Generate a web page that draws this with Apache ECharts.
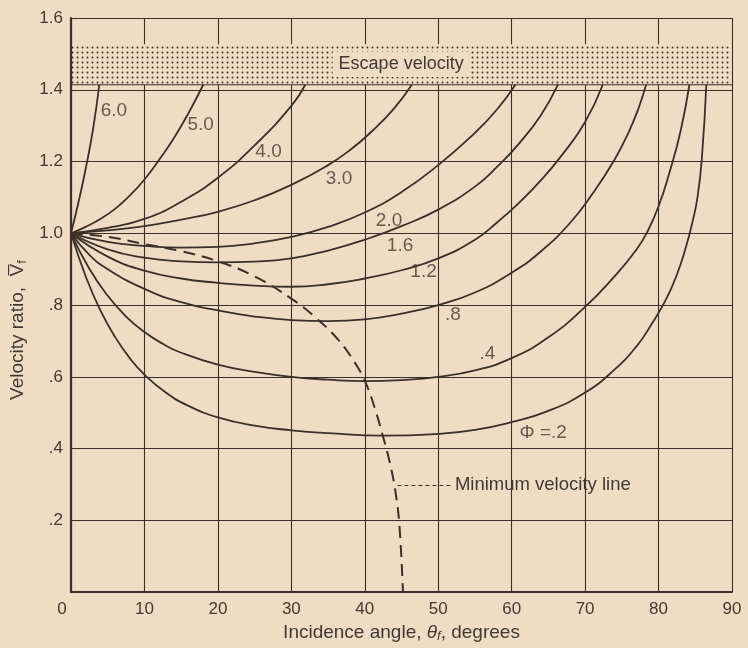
<!DOCTYPE html>
<html><head><meta charset="utf-8">
<script src="https://cdn.jsdelivr.net/npm/echarts@6/dist/echarts.min.js"></script>
<style>html,body{margin:0;padding:0;background:#f0dcc5;} #c{width:748px;height:648px;}</style>
</head><body><div id="c"></div>
<script>
const BG = '#f0dcc5', INK = '#3b2f27', TXT = '#433830';
const FONT = '"Liberation Sans", Arial, sans-serif';

// Velocity ratio vs incidence angle (deg) for each value of PHI
const phi60 = [[0,1.0],[1,1.085],[2,1.18],[3,1.29],[3.85,1.414]];
const phi50 = [[0,1.0],[2,1.018],[4,1.04],[6,1.068],[8,1.105],[10,1.15],[12,1.205],[14,1.265],[16,1.335],[18,1.414]];
const phi40 = [[0,1.0],[5,1.015],[10,1.04],[15,1.088],[20,1.155],[25,1.245],[30,1.355],[31.9,1.414]];
const phi30 = [[0,1.0],[5,1.008],[10,1.02],[15,1.038],[20,1.06],[25,1.092],[30,1.135],[35,1.19],[38,1.232],[41,1.285],[44,1.348],[46.4,1.414]];
const phi20 = [[0,1.0],[5,0.976],[10,0.965],[15,0.96],[20,0.962],[25,0.972],[30,0.99],[35,1.018],[40,1.058],[45,1.115],[50,1.19],[55,1.28],[58,1.345],[60.5,1.414]];
const phi16 = [[0,1.0],[5,0.955],[10,0.932],[15,0.922],[20,0.919],[25,0.921],[30,0.93],[35,0.952],[40,0.982],[45,1.02],[50,1.066],[55,1.13],[58,1.185],[61,1.25],[64,1.33],[66.3,1.414]];
const phi12 = [[0,1.0],[5,0.935],[10,0.896],[15,0.874],[20,0.862],[25,0.854],[30,0.851],[35,0.858],[40,0.874],[45,0.897],[50,0.93],[55,0.982],[58,1.03],[61,1.085],[64,1.148],[67,1.222],[70,1.31],[72.4,1.414]];
const phi08 = [[0,1.0],[2.5,0.94],[5,0.9],[10,0.845],[15,0.808],[20,0.785],[25,0.768],[30,0.758],[35,0.755],[40,0.76],[45,0.776],[50,0.8],[55,0.835],[60,0.89],[64,0.95],[68,1.03],[71,1.11],[74,1.205],[76,1.285],[77.3,1.35],[78.3,1.414]];
const phi04 = [[0,1.0],[2.5,0.901],[5,0.826],[7.5,0.768],[10,0.725],[12.5,0.692],[15,0.667],[20,0.634],[25,0.614],[30,0.6],[35,0.592],[40,0.588],[45,0.591],[50,0.6],[55,0.618],[60,0.652],[65,0.71],[70,0.795],[74,0.88],[77,0.955],[78.5,1.005],[80,1.075],[81.5,1.17],[83,1.285],[84.2,1.414]];
const phi02 = [[0,1.0],[2,0.88],[4,0.785],[6,0.711],[8,0.652],[10,0.606],[13,0.555],[16,0.519],[20,0.487],[25,0.464],[30,0.451],[35,0.443],[42.5,0.436],[50,0.441],[55,0.452],[60,0.474],[65,0.505],[70,0.556],[74,0.62],[77,0.685],[79,0.745],[81,0.815],[82.5,0.885],[83.7,0.96],[84.6,1.03],[85.3,1.1],[85.9,1.21],[86.5,1.414]];
const minVelocity = [[0,1.0],[5,0.99],[10,0.97],[15,0.95],[20,0.922],[25,0.88],[30,0.818],[33.2,0.767],[36.4,0.703],[39,0.628],[40.3,0.575],[41.4,0.51],[42.4,0.44],[43.3,0.37],[44.1,0.29],[44.7,0.19],[45.2,0.0]];
const curveSets = [phi60, phi50, phi40, phi30, phi20, phi16, phi12, phi08, phi04, phi02];

// escape velocity band
const escapeRatio = 1.414;
const bandTop = 1.527;
const escapeLine = [[0, escapeRatio], [90, escapeRatio]];

// annotations
const tagText = ['6.0','5.0','4.0','3.0','2.0','1.6','1.2','.8','.4','\u03A6 =.2'];
const tagSpots = [[5.85,1.342],[17.66,1.303],[26.9,1.226],[36.5,1.153],[43.3,1.036],[44.8,0.965],[48.0,0.892],[52.0,0.772],[56.7,0.663],[64.3,0.443]];
const leaderFrom = [44.45, 0.298], leaderTo = [52.0, 0.298];

function dotPattern() {
  const c = document.createElement('canvas');
  c.width = 5; c.height = 5;
  const g = c.getContext('2d');
  g.fillStyle = BG; g.fillRect(0, 0, 5, 5);
  g.fillStyle = INK; g.beginPath(); g.arc(2.5, 2.5, 0.95, 0, Math.PI * 2); g.fill();
  return c;
}

const chart = echarts.init(document.getElementById('c'), null, {renderer: 'canvas'});

const series = curveSets.map(d => ({
  type: 'line', data: d, smooth: 0.5, symbol: 'none',
  lineStyle: {color: INK, width: 1.8}, silent: true, z: 3
}));

series.push({
  type: 'line', data: minVelocity, smooth: 0.4, symbol: 'none', silent: true, z: 3,
  lineStyle: {color: INK, width: 2, type: [12, 7]},
  markLine: {
    symbol: 'none', silent: true,
    lineStyle: {color: INK, width: 1, type: [4, 3]},
    label: {show: true, position: 'end', distance: 2, formatter: 'Minimum velocity line',
      color: TXT, fontSize: 18.5, fontFamily: FONT},
    data: [[{coord: leaderFrom}, {coord: leaderTo}]]
  }
});

series.push({
  type: 'line', data: escapeLine, symbol: 'none', silent: true, z: 3,
  lineStyle: {color: INK, width: 1.2},
  markArea: {
    silent: true,
    itemStyle: {color: {image: dotPattern(), repeat: 'repeat'}, borderWidth: 0},
    label: {show: true, position: 'inside', formatter: 'Escape velocity', color: TXT,
      fontSize: 18, fontFamily: FONT, backgroundColor: BG, padding: [4, 6, 3, 6]},
    data: [[{xAxis: 0, yAxis: escapeRatio}, {xAxis: 89.9, yAxis: bandTop}]]
  }
});

series.push({
  type: 'scatter', symbolSize: 1, silent: true, z: 5,
  itemStyle: {color: 'rgba(0,0,0,0)'},
  label: {show: true, position: 'inside', color: TXT, fontSize: 19, fontFamily: FONT},
  data: tagSpots.map((p, i) => ({value: p, label: {formatter: tagText[i]}}))
});

chart.setOption({
  animation: false,
  backgroundColor: BG,
  grid: {left: 71, right: 16, top: 18, bottom: 48},
  xAxis: {
    type: 'value', min: 0, max: 90, interval: 10,
    axisLine: {show: true, lineStyle: {color: INK, width: 2.2}},
    axisTick: {show: false},
    splitLine: {show: true, lineStyle: {color: INK, width: 1.1}},
    axisLabel: {
      margin: 9, color: TXT, fontSize: 17, fontFamily: FONT,
      formatter: v => v === 0 ? '{o|0}' : String(v),
      rich: {o: {padding: [0, 18, 0, 0], color: TXT, fontSize: 17, fontFamily: FONT}}
    },
    name: 'Incidence angle, {t|\u03B8}{s|f}, degrees',
    nameLocation: 'middle', nameGap: 15,
    nameTextStyle: {color: TXT, fontSize: 19, fontFamily: FONT,
      rich: {t: {fontStyle: 'italic', fontSize: 19, fontFamily: FONT, color: TXT},
             s: {fontStyle: 'italic', fontSize: 13, fontFamily: FONT, color: TXT, verticalAlign: 'bottom', padding: [8, 0, 0, 0]}}}
  },
  yAxis: {
    type: 'value', min: 0, max: 1.6, interval: 0.2, z: 4,
    axisLine: {show: true, lineStyle: {color: INK, width: 2.2}},
    axisTick: {show: false},
    splitLine: {show: true, lineStyle: {color: INK, width: 1.1}},
    axisLabel: {
      margin: 8, color: TXT, fontSize: 17, fontFamily: FONT,
      formatter: v => v === 0 ? '' : (v < 1 ? '.' + Math.round(v * 10) : v.toFixed(1))
    },
    name: 'Velocity ratio,  {v|V\u0305}{s|f}',
    nameLocation: 'middle', nameGap: 31,
    nameTextStyle: {color: TXT, fontSize: 19, fontFamily: FONT, padding: [0, 50, 0, 0],
      rich: {v: {fontSize: 19, fontFamily: FONT, color: TXT},
             s: {fontSize: 13, fontFamily: FONT, color: TXT, verticalAlign: 'bottom', padding: [8, 0, 0, 0]}}}
  },
  series: series
});
</script></body></html>
